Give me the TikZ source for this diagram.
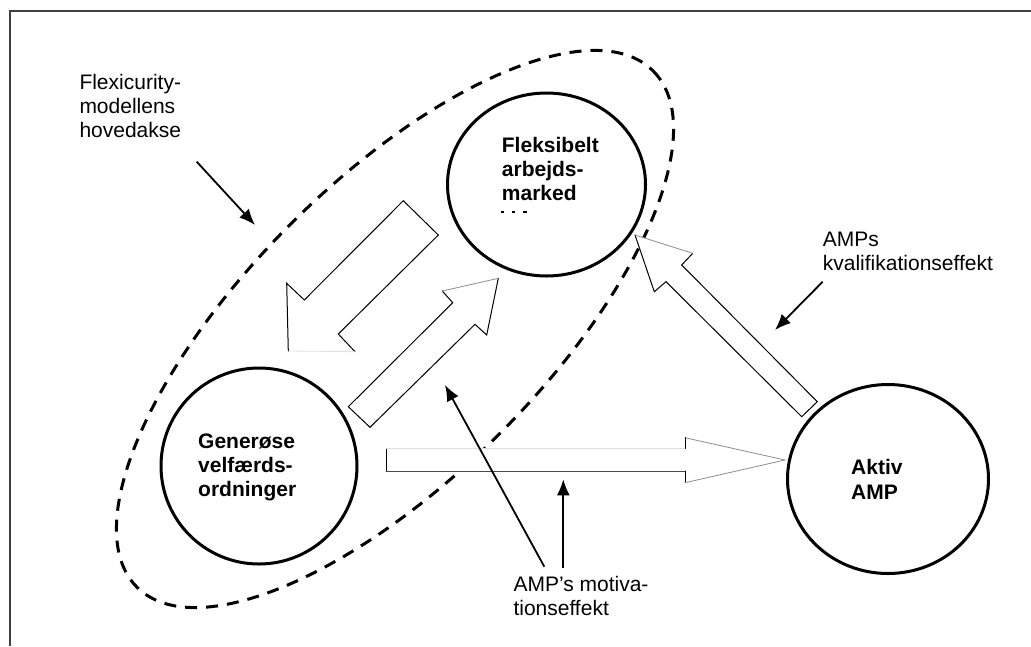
\documentclass[tikz,border=0pt]{standalone}
\usepackage{fontspec}
\setmainfont{Liberation Sans}
\usetikzlibrary{arrows.meta,shapes.geometric}
\begin{document}
\begin{tikzpicture}[x=1pt,y=-1pt,
  ring/.style={draw=black, fill=white, line width=3pt, ellipse, inner sep=0pt},
  lbl/.style={anchor=base west, inner sep=0pt, font=\fontsize{21}{24}\selectfont},
  blbl/.style={anchor=base west, inner sep=0pt, font=\fontsize{21}{24}\selectfont\bfseries},
  edge/.style={line width=1pt, black, line cap=round},
  faint/.style={line width=0.8pt, black!45, line cap=round},
  pale/.style={line width=0.8pt, black!12},
  pointer/.style={line width=1.8pt, -{Latex[length=16pt,width=13pt]}},
  axisline/.style={line width=3pt, dash pattern=on 12pt off 9pt},
]
\useasboundingbox (0,0) rectangle (1031,646);

% frame
\draw[line width=1.2pt, black!75] (10,646) -- (10,11) -- (1031,11);

% dashed main axis
\draw[axisline, rotate around={45:(395,329)}] (395,329) ellipse [x radius=365, y radius=148];

% block arrow: labour market -> welfare schemes (lower part hidden)
\fill[white] (403.3,200.7) -- (438.3,235) -- (338.3,334) -- (355,351.7) -- (288.3,351) -- (286.7,283.3) -- (304.3,300) -- cycle;
\draw[edge] (304.3,300) -- (403.3,200.7) -- (438.3,235) -- (338.3,334) -- (355,351.7);
\draw[edge] (288.3,351) -- (286.7,283.3) -- (304.3,300);
\draw[pale] (355,351.7) -- (288.3,351);

% block arrow: welfare schemes -> labour market
\fill[white] (498.3,278.3) -- (486.7,335) -- (475,324.3) -- (370,427.3) -- (348.3,406.7) -- (452.7,302.7) -- (442.3,291) -- cycle;
\draw[edge] (498.3,278.3) -- (486.7,335) -- (475,324.3) -- (370,427.3) -- (348.3,406.7) -- (452.7,302.7) -- (442.3,291);
\draw[faint] (442.3,291) -- (498.3,278.3);

% block arrow: active policy -> labour market
\fill[white] (635,235) -- (692.7,253.3) -- (681.7,265) -- (817.3,401.7) -- (801.7,416.7) -- (666,281.7) -- (654.3,291.7) -- cycle;
\draw[edge] (692.7,253.3) -- (681.7,265) -- (817.3,401.7) -- (801.7,416.7) -- (666,281.7) -- (654.3,291.7) -- (635,235);
\draw[faint] (635,235) -- (692.7,253.3);

% block arrow: welfare schemes -> active policy
\fill[white] (386,448.3) -- (386,471) -- (685,471) -- (685,482.7) -- (785,460) -- (685,437.7) -- (685,448.3) -- cycle;
\draw[edge] (386,448.3) -- (386,471);
\draw[edge, black!70] (386,471) -- (685,471);
\draw[edge] (685,471) -- (685,482.7);
\draw[faint] (685,482.7) -- (785,460) -- (685,437.7);
\draw[edge] (685,437.7) -- (685,448.3);
\draw[pale] (685,448.3) -- (386,448.3);

% the three institutions
\node[ring, minimum width=198pt, minimum height=183pt] (flex) at (546.5,184.5) {};
\node[ring, minimum width=196pt, minimum height=196pt] (gen) at (259,466) {};
\node[ring, minimum width=201pt, minimum height=189pt] (amp) at (888,479) {};

\node[blbl] (flex1) at (501.7,152.7) {Fleksibelt};
\node[blbl] (flex2) at (501.7,176.7) {arbejds-};
\node[blbl] (flex3) at (501.7,200.7) {marked};
% remnants of a clipped fourth line
\fill (501,210.5) rectangle (503.5,213);
\fill (512,210.5) rectangle (514.5,213);
\fill (523,210.5) rectangle (527,212.5);

\node[blbl] (gen1) at (198,448) {Generøse};
\node[blbl] (gen2) at (198,472) {velfærds-};
\node[blbl] (gen3) at (198,496) {ordninger};

\node[blbl] (amp1) at (851,474) {Aktiv};
\node[blbl] (amp2) at (851,499) {AMP};

% annotations
\node[lbl] (fx1) at (79.3,89.3) {Flexicurity-};
\node[lbl] (fx2) at (79.3,113.3) {modellens};
\node[lbl] (fx3) at (79.3,137.3) {hovedakse};

\node[lbl] (kv1) at (822.7,246.7) {AMPs};
\node[lbl] (kv2) at (822.7,270.7) {kvalifikationseffekt};

\node[lbl] (mo1) at (513.3,591.7) {AMP’s motiva-};
\node[lbl] (mo2) at (513.3,615.7) {tionseffekt};

% pointers
\coordinate (fxs) at (196.7,161.7);
\coordinate (fxe) at (255,225);
\coordinate (kvs) at (822.7,281.7);
\coordinate (kve) at (775,330);
\coordinate (mos) at (544.3,566.7);
\coordinate (moe) at (445,385);
\coordinate (mvs) at (563.3,568.3);
\coordinate (mve) at (563.3,479.3);

\draw[pointer] (fxs) -- (fxe);
\draw[pointer] (kvs) -- (kve);
\draw[pointer] (mos) -- (moe);
\draw[pointer] (mvs) -- (mve);
\end{tikzpicture}
\end{document}
